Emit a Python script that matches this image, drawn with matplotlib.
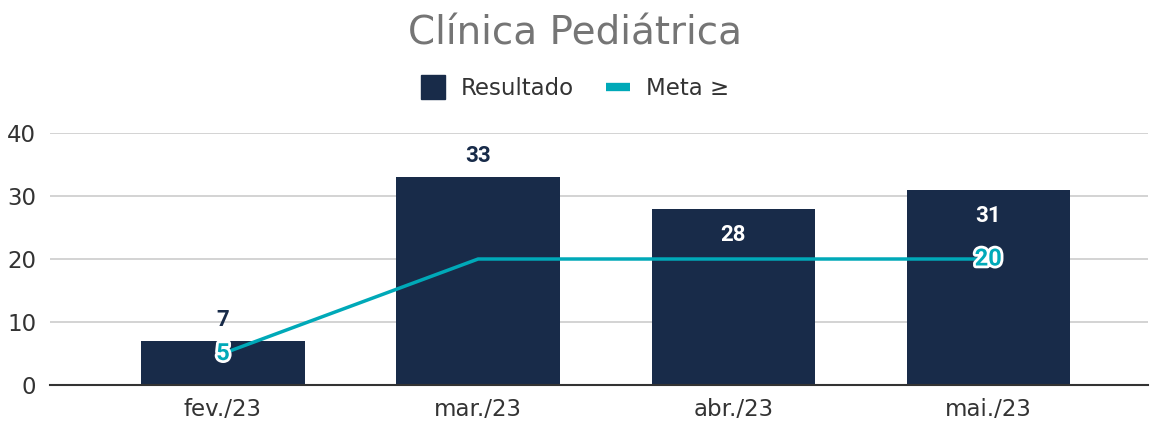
import matplotlib.pyplot as plt
import matplotlib.patheffects as pe
from matplotlib.lines import Line2D

plt.rcParams['font.family'] = ['DejaVu Sans']

# data
meses = ["fev./23", "mar./23", "abr./23", "mai./23"]
resultado = [7, 33, 28, 31]
meta = [5, 20, 20, 20]

cor_barra = "#182b49"
cor_meta = "#00a9b8"

fig = plt.figure(figsize=(11.5, 4.23), dpi=100)
ax = fig.add_axes([0.0435, 0.0898, 0.955, 0.5958])

x = list(range(len(meses)))
ax.bar(x, resultado, width=0.64, color=cor_barra, zorder=2)
ax.plot(x, meta, color=cor_meta, linewidth=2.5, zorder=3)

# rótulos das barras (dois primeiros acima, os outros dentro)
dentro = [False, False, True, True]
for i, v in enumerate(resultado):
    if dentro[i]:
        ax.annotate(str(v), (i, v), xytext=(0, -19), textcoords="offset points",
                    ha="center", va="center", fontsize=16, fontweight="bold",
                    color="white", family="Roboto", zorder=4)
    else:
        ax.annotate(str(v), (i, v), xytext=(0, 15), textcoords="offset points",
                    ha="center", va="center", fontsize=16, fontweight="bold",
                    color=cor_barra, family="Roboto", zorder=4)

# rótulos da meta só no primeiro e último ponto
for i in [0, len(meta) - 1]:
    ax.text(i, meta[i], str(meta[i]), ha="center", va="center", fontsize=17,
            fontweight="bold", color=cor_meta, family="Roboto", zorder=5,
            path_effects=[pe.withStroke(linewidth=4, foreground="white")])

ax.set_ylim(0, 40)
ax.set_xlim(-0.678, 3.627)
ax.set_yticks([0, 10, 20, 30, 40])
ax.set_xticks(x)
ax.set_xticklabels(meses)
ax.tick_params(length=0, labelsize=16.5, colors="#333333")
ax.tick_params(axis="x", pad=9)
ax.tick_params(axis="y", pad=10)
ax.grid(axis="y", color="#cccccc", linewidth=1.2, zorder=0)
ax.set_axisbelow(True)
for s in ["top", "right", "left"]:
    ax.spines[s].set_visible(False)
ax.spines["bottom"].set_color("#333333")
ax.spines["bottom"].set_linewidth(1.5)
ax.spines["bottom"].set_zorder(3)

fig.text(0.5, 0.92, "Clínica Pediátrica", ha="center", va="center",
         fontsize=28, color="#757575")

handles = [
    Line2D([], [], marker="s", color="none", markerfacecolor=cor_barra,
           markeredgecolor=cor_barra, markersize=17, label="Resultado"),
    Line2D([], [], color=cor_meta, linewidth=6, solid_capstyle="butt",
           label="Meta ≥"),
]
fig.legend(handles=handles, loc="center", bbox_to_anchor=(0.5, 0.79), ncol=2,
           frameon=False, fontsize=16.5, handlelength=1.05, columnspacing=1.4,
           handletextpad=0.7, labelcolor="#333333")

fig.savefig("out.png", dpi=100)
